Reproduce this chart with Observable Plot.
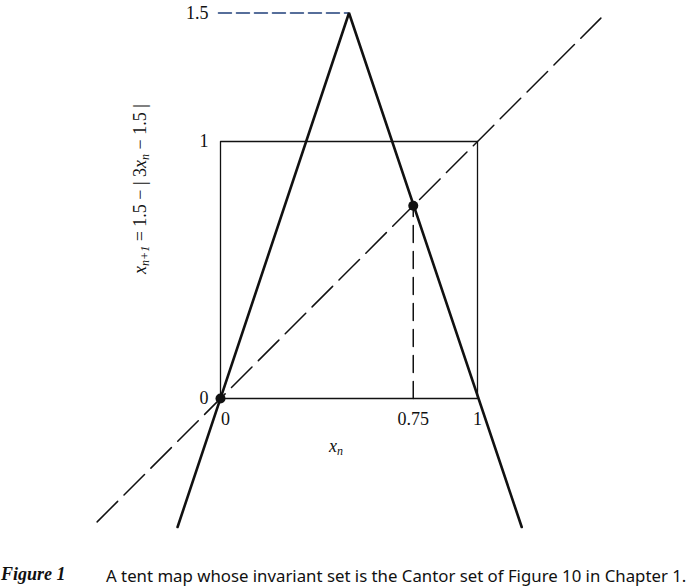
<!DOCTYPE html>
<html>
<head>
<meta charset="utf-8">
<script src="https://cdn.jsdelivr.net/npm/d3@7"></script>
<script src="https://cdn.jsdelivr.net/npm/@observablehq/plot@0.6"></script>
<style>
  body { margin: 0; background: #fff; }
  #chart svg { display: block; }
  #caption { position: relative; height: 33px; color: #111; }
  #caption .fig { position: absolute; left: 1px; top: 9px; font-size: 18px; font-family: "Liberation Serif", serif; font-weight: bold; font-style: italic; }
  #caption .txt { position: absolute; left: 106px; top: 9px; font-size: 16.8px; font-family: "Noto Sans", sans-serif; }
</style>
</head>
<body>
<div id="chart"></div>
<div id="caption"><span class="fig">Figure 1</span><span class="txt">A tent map whose invariant set is the Cantor set of Figure 10 in Chapter 1.</span></div>
<script>
// Tent map f(x) = 1.5 - |3x - 1.5|, drawn beyond the unit square
const tentX = [-0.167, 0.5, 1.172];
const tentY = [-0.5, 1.5, -0.5];
// Dashed identity line y = x
const diagX = [-0.48, 1.48];
const diagY = [-0.48, 1.48];
// Unit square
const squareX = [0, 1, 1, 0, 0];
const squareY = [0, 0, 1, 1, 0];
// Fixed points
const fixedX = [0, 0.75];
const fixedY = [0, 0.75];
// Dashed guides
const peakGuideX = [-0.008, 0.5];
const peakGuideY = [1.5, 1.5];
const fixGuideX = [0.75, 0.75];
const fixGuideY = [0, 0.75];
// Tick labels
const xTicks = [0, 0.75, 1];
const xTickLabels = ["0", "0.75", "1"];
const yTicks = [0, 1, 1.5];
const yTickLabels = ["0", "1", "1.5"];

const pts = (xs, ys) => xs.map((x, i) => ({x, y: ys[i]}));
const xTickData = xTicks.map((v, i) => ({v, label: xTickLabels[i]}));
const yTickData = yTicks.map((v, i) => ({v, label: yTickLabels[i]}));

const serif = "Liberation Serif, DejaVu Serif, serif";

const chart = Plot.plot({
  width: 693,
  height: 555,
  margin: 0,
  x: {domain: [0, 1], range: [220, 477], axis: null},
  y: {domain: [0, 1], range: [398, 141], axis: null},
  marks: [
    Plot.line(pts(squareX, squareY), {x: "x", y: "y", stroke: "#111", strokeWidth: 1.3}),
    Plot.line(pts(diagX, diagY), {x: "x", y: "y", stroke: "#111", strokeWidth: 1.5, strokeDasharray: "29 9"}),
    Plot.line(pts(peakGuideX, peakGuideY), {x: "x", y: "y", stroke: "#1f3f7a", strokeWidth: 1.5, strokeDasharray: "13 5"}),
    Plot.line(pts(fixGuideX, fixGuideY), {x: "x", y: "y", stroke: "#111", strokeWidth: 1.5, strokeDasharray: "17 9"}),
    Plot.line(pts(tentX, tentY), {x: "x", y: "y", stroke: "#111", strokeWidth: 2.6, strokeLinejoin: "miter"}),
    Plot.dot(pts(fixedX, fixedY), {x: "x", y: "y", r: 5, fill: "#111", stroke: "none"}),
    Plot.text(xTickData.filter(d => d.v === 0), {x: "v", y: () => 0, text: "label", dx: 5, dy: 21, fontSize: 18, fontFamily: serif, fill: "#111"}),
    Plot.text(xTickData.filter(d => d.v !== 0), {x: "v", y: () => 0, text: "label", dy: 21, fontSize: 18, fontFamily: serif, fill: "#111"}),
    Plot.text(yTickData, {x: () => 0, y: "v", text: "label", dx: -12, textAnchor: "end", fontSize: 18, fontFamily: serif, fill: "#111"})
  ]
});

// Math-style axis labels with subscripts as real SVG text
const svg = d3.select(chart);
const xl = svg.append("text")
  .attr("x", 336).attr("y", 452)
  .attr("font-family", serif).attr("font-style", "italic").attr("font-size", 18).attr("fill", "#111");
xl.append("tspan").text("x");
xl.append("tspan").attr("font-size", 12).attr("dy", 3).text("n");

const yl = svg.append("text")
  .attr("transform", "translate(146,189) rotate(-90)")
  .attr("text-anchor", "middle")
  .attr("font-family", serif).attr("font-size", 18).attr("fill", "#111");
yl.append("tspan").attr("font-style", "italic").text("x");
yl.append("tspan").attr("font-size", 12).attr("dy", 3).attr("font-style", "italic").text("n+1");
yl.append("tspan").attr("dy", -3).text(" = 1.5 − | 3");
yl.append("tspan").attr("font-style", "italic").text("x");
yl.append("tspan").attr("font-size", 12).attr("dy", 3).attr("font-style", "italic").text("n");
yl.append("tspan").attr("dy", -3).text(" − 1.5 |");

document.getElementById("chart").appendChild(chart);
</script>
</body>
</html>
